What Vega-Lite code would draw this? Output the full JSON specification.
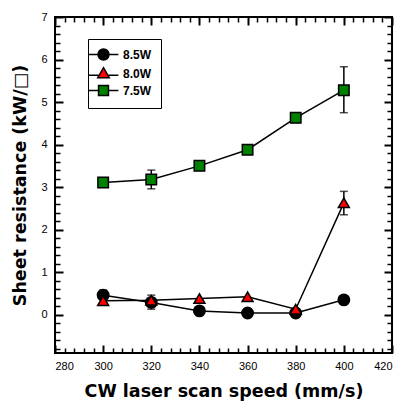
{
  "$schema": "https://vega.github.io/schema/vega-lite/v6.json",
  "width": 337,
  "height": 336,
  "autosize": "none",
  "padding": {"left": 55, "top": 17, "right": 6, "bottom": 54},
  "background": "white",
  "config": {
    "view": {"stroke": "black", "strokeWidth": 2},
    "font": "Liberation Sans",
    "axis": {"grid": false, "domain": false, "zindex": 1, "tickColor": "black", "tickWidth": 2, "tickOpacity": 1, "labelColor": "black", "labelFont": "Liberation Sans", "labelFontSize": 11, "titleColor": "black", "titleFont": "DejaVu Sans", "titleFontWeight": "bold", "titleFontSize": 17.5}
  },
  "data": {
    "values": [
      {"series": "8.5W", "x": 300, "y": 0.46, "lo": 0.36, "hi": 0.58},
      {"series": "8.5W", "x": 320, "y": 0.29, "lo": 0.13, "hi": 0.46},
      {"series": "8.5W", "x": 340, "y": 0.09, "lo": null, "hi": null},
      {"series": "8.5W", "x": 360, "y": 0.04, "lo": null, "hi": null},
      {"series": "8.5W", "x": 380, "y": 0.04, "lo": null, "hi": null},
      {"series": "8.5W", "x": 400, "y": 0.35, "lo": null, "hi": null},
      {"series": "8.0W", "x": 300, "y": 0.33, "lo": null, "hi": null},
      {"series": "8.0W", "x": 320, "y": 0.34, "lo": null, "hi": null},
      {"series": "8.0W", "x": 340, "y": 0.38, "lo": null, "hi": null},
      {"series": "8.0W", "x": 360, "y": 0.42, "lo": null, "hi": null},
      {"series": "8.0W", "x": 380, "y": 0.13, "lo": null, "hi": null},
      {"series": "8.0W", "x": 400, "y": 2.63, "lo": 2.35, "hi": 2.9},
      {"series": "7.5W", "x": 300, "y": 3.11, "lo": 3.06, "hi": 3.16},
      {"series": "7.5W", "x": 320, "y": 3.18, "lo": 2.96, "hi": 3.4},
      {"series": "7.5W", "x": 340, "y": 3.5, "lo": 3.45, "hi": 3.55},
      {"series": "7.5W", "x": 360, "y": 3.88, "lo": 3.77, "hi": 3.99},
      {"series": "7.5W", "x": 380, "y": 4.63, "lo": 4.52, "hi": 4.74},
      {"series": "7.5W", "x": 400, "y": 5.28, "lo": 4.75, "hi": 5.83}
    ]
  },
  "resolve": {"axis": {"x": "independent", "y": "independent"}},
  "layer": [
    {
      "transform": [{"filter": "datum.lo != null"}],
      "mark": {"type": "rule", "color": "black", "strokeWidth": 1.5},
      "encoding": {
        "x": {"field": "x", "type": "quantitative", "scale": {"domain": [280, 420], "nice": false, "zero": false},
              "axis": {"orient": "bottom", "values": [280, 300, 320, 340, 360, 380, 400, 420], "ticks": false, "labelPadding": 7, "title": "CW laser scan speed (mm/s)", "titlePadding": 11}},
        "y": {"field": "lo", "type": "quantitative", "scale": {"domain": [-0.9, 7], "nice": false, "zero": false},
              "axis": {"orient": "left", "values": [0, 1, 2, 3, 4, 5, 6, 7], "ticks": false, "labelPadding": 8, "title": "Sheet resistance (kW/□)", "titlePadding": 11}},
        "y2": {"field": "hi"}
      }
    },
    {
      "transform": [{"filter": "datum.lo != null"}],
      "mark": {"type": "tick", "color": "black", "orient": "horizontal", "size": 8, "thickness": 1.5},
      "encoding": {
        "x": {"field": "x", "type": "quantitative",
              "axis": {"orient": "bottom", "values": [280, 300, 320, 340, 360, 380, 400, 420], "ticks": true, "tickSize": 8, "offset": -8, "labels": false, "title": null}},
        "y": {"field": "lo", "type": "quantitative",
              "axis": {"orient": "left", "values": [0, 1, 2, 3, 4, 5, 6, 7], "ticks": true, "tickSize": 8, "offset": -8, "labels": false, "title": null}}
      }
    },
    {
      "transform": [{"filter": "datum.lo != null"}],
      "mark": {"type": "tick", "color": "black", "orient": "horizontal", "size": 8, "thickness": 1.5},
      "encoding": {
        "x": {"field": "x", "type": "quantitative",
              "axis": {"orient": "bottom", "values": [284, 288, 292, 296, 304, 308, 312, 316, 324, 328, 332, 336, 344, 348, 352, 356, 364, 368, 372, 376, 384, 388, 392, 396, 404, 408, 412, 416], "ticks": true, "tickSize": 5, "offset": -5, "tickWidth": 1.5, "labels": false, "title": null}},
        "y": {"field": "hi", "type": "quantitative",
              "axis": {"orient": "left", "values": [-0.8, -0.6, -0.4, -0.2, 0.2, 0.4, 0.6, 0.8, 1.2, 1.4, 1.6, 1.8, 2.2, 2.4, 2.6, 2.8, 3.2, 3.4, 3.6, 3.8, 4.2, 4.4, 4.6, 4.8, 5.2, 5.4, 5.6, 5.8, 6.2, 6.4, 6.6, 6.8], "ticks": true, "tickSize": 5, "offset": -5, "tickWidth": 1.5, "labels": false, "title": null}}
      }
    },
    {
      "mark": {"type": "line", "color": "black", "strokeWidth": 1.5},
      "encoding": {
        "detail": {"field": "series"},
        "x": {"field": "x", "type": "quantitative",
              "axis": {"orient": "top", "values": [280, 300, 320, 340, 360, 380, 400, 420], "ticks": true, "tickSize": 8, "offset": -8, "labels": false, "title": null}},
        "y": {"field": "y", "type": "quantitative",
              "axis": {"orient": "right", "values": [0, 1, 2, 3, 4, 5, 6, 7], "ticks": true, "tickSize": 8, "offset": -8, "labels": false, "title": null}}
      }
    },
    {
      "transform": [{"filter": "datum.series === '8.5W'"}],
      "mark": {"type": "point", "shape": "circle", "filled": true, "fill": "#000000", "stroke": "black", "strokeWidth": 1.5, "opacity": 1, "size": 130},
      "encoding": {
        "x": {"field": "x", "type": "quantitative",
              "axis": {"orient": "top", "values": [284, 288, 292, 296, 304, 308, 312, 316, 324, 328, 332, 336, 344, 348, 352, 356, 364, 368, 372, 376, 384, 388, 392, 396, 404, 408, 412, 416], "ticks": true, "tickSize": 5, "offset": -5, "tickWidth": 1.5, "labels": false, "title": null}},
        "y": {"field": "y", "type": "quantitative",
              "axis": {"orient": "right", "values": [-0.8, -0.6, -0.4, -0.2, 0.2, 0.4, 0.6, 0.8, 1.2, 1.4, 1.6, 1.8, 2.2, 2.4, 2.6, 2.8, 3.2, 3.4, 3.6, 3.8, 4.2, 4.4, 4.6, 4.8, 5.2, 5.4, 5.6, 5.8, 6.2, 6.4, 6.6, 6.8], "ticks": true, "tickSize": 5, "offset": -5, "tickWidth": 1.5, "labels": false, "title": null}}
      }
    },
    {
      "transform": [{"filter": "datum.series === '8.0W'"}],
      "mark": {"type": "point", "shape": "triangle-up", "filled": true, "fill": "#ff0000", "stroke": "black", "strokeWidth": 1.5, "opacity": 1, "size": 120},
      "encoding": {
        "x": {"field": "x", "type": "quantitative", "axis": null},
        "y": {"field": "y", "type": "quantitative", "axis": null}
      }
    },
    {
      "transform": [{"filter": "datum.series === '7.5W'"}],
      "mark": {"type": "point", "shape": "square", "filled": true, "fill": "#008000", "stroke": "black", "strokeWidth": 1.5, "opacity": 1, "size": 110},
      "encoding": {
        "x": {"field": "x", "type": "quantitative", "axis": null},
        "y": {"field": "y", "type": "quantitative", "axis": null}
      }
    },
    {
      "transform": [{"filter": "false"}],
      "mark": {"type": "point", "filled": false, "stroke": "black", "strokeWidth": 1.5, "opacity": 1},
      "encoding": {
        "x": {"field": "x", "type": "quantitative", "axis": null},
        "y": {"field": "y", "type": "quantitative", "axis": null},
        "shape": {"field": "series", "type": "nominal",
                  "scale": {"domain": ["8.5W", "8.0W", "7.5W"], "range": ["M-2.7,0H-1M1,0H2.7M1,0A1,1,0,1,1,-1,0A1,1,0,1,1,1,0Z", "M-2.7,0.3H-0.9M0.9,0.3H2.7M0,-1.05L1.05,0.75L-1.05,0.75Z", "M-2.7,0H-0.9M0.9,0H2.7M-0.9,-0.9H0.9V0.9H-0.9Z"]},
                  "legend": {"title": null, "orient": "none", "legendX": 33, "legendY": 22, "padding": 9, "strokeColor": "black",
                             "symbolSize": 121, "symbolStrokeColor": "black", "symbolStrokeWidth": 1.5, "symbolOpacity": 1,
                             "labelFont": "Liberation Sans", "labelFontWeight": "bold", "labelFontSize": 12, "labelColor": "black", "labelOffset": 13, "rowPadding": 1,
                             "encoding": {"symbols": {"stroke": {"value": "black"}, "strokeWidth": {"value": 1.5}}}}},
        "fill": {"field": "series", "type": "nominal",
                 "scale": {"domain": ["8.5W", "8.0W", "7.5W"], "range": ["#000000", "#ff0000", "#008000"]}}
      }
    }
  ]
}
